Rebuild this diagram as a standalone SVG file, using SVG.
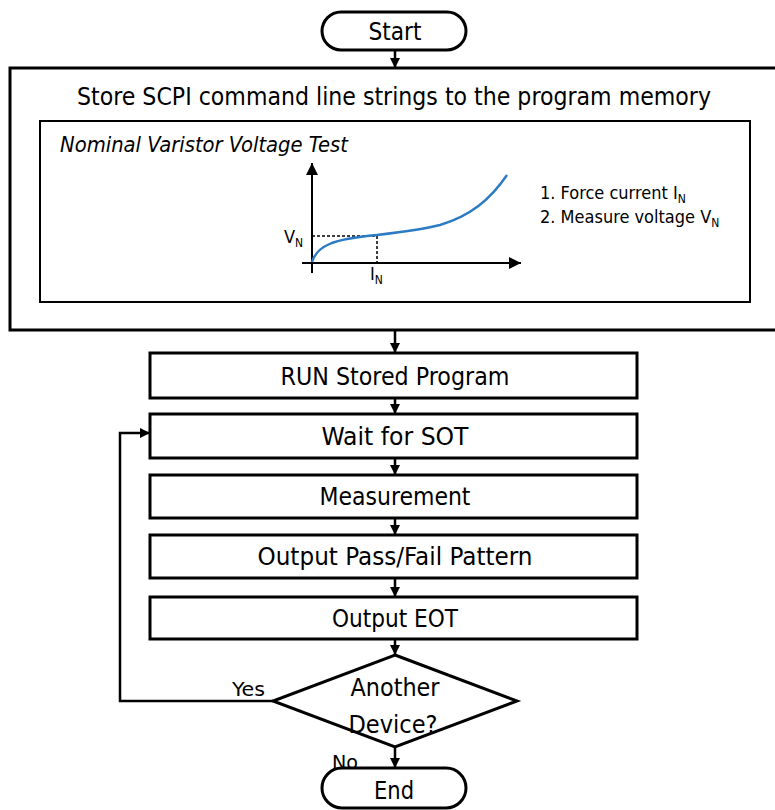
<svg xmlns="http://www.w3.org/2000/svg" width="775" height="810" viewBox="0 0 775 810">
<defs>
<style>
.t{font-family:"Liberation Sans Narrow","DejaVu Sans Condensed","Liberation Sans",sans-serif;fill:#000;}
.b{fill:#fff;stroke:#000;stroke-width:3;}
.c{fill:none;stroke:#000;stroke-width:2.5;}
.ax{fill:none;stroke:#000;stroke-width:2;}
.d{fill:none;stroke:#000;stroke-width:1.5;stroke-dasharray:3 2;}
</style>
<marker id="ah" viewBox="0 0 10 10" refX="10" refY="5" markerWidth="4" markerHeight="4" orient="auto" markerUnits="strokeWidth">
<path d="M0,0 L10,5 L0,10 z" fill="#000"/>
</marker>
<marker id="ax" viewBox="0 0 10 10" refX="10" refY="5" markerWidth="7" markerHeight="6" orient="auto" markerUnits="strokeWidth">
<path d="M0,0 L10,5 L0,10 z" fill="#000"/>
</marker>
</defs>
<rect width="775" height="810" fill="#fff"/>

<g id="start">
<rect class="b" x="322" y="12" width="144" height="38" rx="19"/>
<text class="t" x="395" y="40" font-size="24" text-anchor="middle" textLength="53" lengthAdjust="spacingAndGlyphs">Start</text>
</g>

<g id="store">
<rect class="b" x="10" y="68" width="785" height="262" stroke-width="3.5"/>
<text class="t" x="394" y="105" font-size="24" text-anchor="middle" textLength="634" lengthAdjust="spacingAndGlyphs">Store SCPI command line strings to the program memory</text>
<rect fill="#fff" stroke="#000" stroke-width="2" x="40" y="121" width="710" height="181"/>
<text class="t" x="60" y="152" font-size="21" font-style="italic" textLength="288" lengthAdjust="spacingAndGlyphs">Nominal Varistor Voltage Test</text>
<line class="ax" x1="312" y1="273" x2="312" y2="163" marker-end="url(#ax)"/>
<line class="ax" x1="302" y1="263" x2="521" y2="263" marker-end="url(#ax)"/>
<polyline class="d" points="312,236 377,236 377,263"/>
<path d="M312,262 C317,246 332,239 377,235 C410,231 425,229 440,225 C470,216 490,200 507,175" fill="none" stroke="#2b7bc4" stroke-width="2.4"/>
<text class="t" x="284" y="243" font-size="18">V<tspan font-size="12" dy="4">N</tspan></text>
<text class="t" x="370" y="280" font-size="18">I<tspan font-size="12" dy="4">N</tspan></text>
<text class="t" x="540" y="199" font-size="18">1. Force current I<tspan font-size="12" dy="4">N</tspan></text>
<text class="t" x="540" y="223" font-size="18">2. Measure voltage V<tspan font-size="12" dy="4">N</tspan></text>
</g>

<g id="run">
<rect class="b" x="150" y="353" width="487" height="45"/>
<text class="t" x="395" y="385" font-size="24" text-anchor="middle" textLength="229" lengthAdjust="spacingAndGlyphs">RUN Stored Program</text>
</g>
<g id="wait">
<rect class="b" x="150" y="414" width="487" height="44"/>
<text class="t" x="395" y="445" font-size="24" text-anchor="middle" textLength="147" lengthAdjust="spacingAndGlyphs">Wait for SOT</text>
</g>
<g id="measure">
<rect class="b" x="150" y="475" width="487" height="43"/>
<text class="t" x="395" y="505" font-size="24" text-anchor="middle" textLength="151" lengthAdjust="spacingAndGlyphs">Measurement</text>
</g>
<g id="passfail">
<rect class="b" x="150" y="535" width="487" height="43"/>
<text class="t" x="395" y="565" font-size="24" text-anchor="middle" textLength="275" lengthAdjust="spacingAndGlyphs">Output Pass/Fail Pattern</text>
</g>
<g id="eot">
<rect class="b" x="150" y="597" width="487" height="42"/>
<text class="t" x="395" y="627" font-size="24" text-anchor="middle" textLength="126" lengthAdjust="spacingAndGlyphs">Output EOT</text>
</g>
<g id="decision">
<polygon class="b" points="395,655 517,701 395,747 273,701"/>
<text class="t" x="395" y="696" font-size="24" text-anchor="middle" textLength="89" lengthAdjust="spacingAndGlyphs">Another</text>
<text class="t" x="393" y="733" font-size="24" text-anchor="middle" textLength="89" lengthAdjust="spacingAndGlyphs">Device?</text>
</g>
<g id="end">
<rect class="b" x="322" y="768" width="144" height="40" rx="20"/>
<text class="t" x="394" y="799" font-size="24" text-anchor="middle" textLength="40" lengthAdjust="spacingAndGlyphs">End</text>
</g>

<g id="connectors">
<line class="c" x1="395" y1="50" x2="395" y2="68" marker-end="url(#ah)"/>
<line class="c" x1="395" y1="330" x2="395" y2="353" marker-end="url(#ah)"/>
<line class="c" x1="395" y1="398" x2="395" y2="414" marker-end="url(#ah)"/>
<line class="c" x1="395" y1="458" x2="395" y2="475" marker-end="url(#ah)"/>
<line class="c" x1="395" y1="518" x2="395" y2="535" marker-end="url(#ah)"/>
<line class="c" x1="395" y1="578" x2="395" y2="597" marker-end="url(#ah)"/>
<line class="c" x1="395" y1="639" x2="395" y2="655" marker-end="url(#ah)"/>
<line class="c" x1="395" y1="747" x2="395" y2="768" marker-end="url(#ah)"/>
<polyline class="c" points="273,701 120,701 120,433 150,433" marker-end="url(#ah)"/>
<text class="t" x="232" y="696" font-size="20" textLength="33" lengthAdjust="spacingAndGlyphs">Yes</text>
<text class="t" x="332" y="769" font-size="20" textLength="26" lengthAdjust="spacingAndGlyphs">No</text>
</g>
</svg>
